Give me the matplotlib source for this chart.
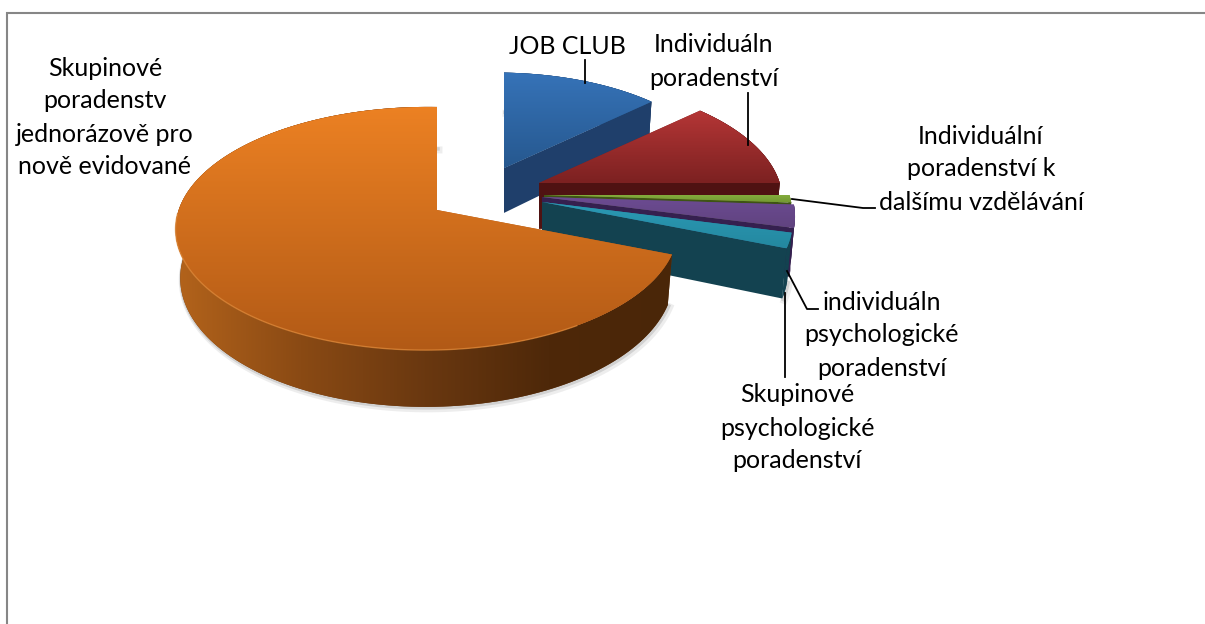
import numpy as np
import matplotlib
matplotlib.use('Agg')
import matplotlib.pyplot as plt
from matplotlib.colors import LinearSegmentedColormap
from matplotlib.patches import Polygon

# Data
kategorie = ['JOB CLUB',
             'Individuáln\nporadenství',
             'Individuální\nporadenství k\ndalšímu vzdělávání',
             'individuáln\npsychologické\nporadenství',
             'Skupinové\npsychologické\nporadenství',
             'Skupinové\nporadenstv\njednorázově pro\nnově evidované']
hodnoty = [13, 12, 1, 3, 2, 69]

# Styl a umisteni kazdeho dilu
stredy = [(504, 168), (539, 183), (544, 195), (542, 197), (542, 202), (437, 210)]
polomery = [0.915, 1.01, 1.03, 1.05, 1.04, 1.0]
barvy_top = [('#3673B8', '#26588F'), ('#B53636', '#7C2121'), ('#86AE3E', '#739A32'),
             ('#6C4B92', '#60437F'), ('#2B9AB5', '#2488A0'), ('#EC8123', '#B25A16')]
barvy_rez = ['#1F3F6B', '#4F1212', '#3E5414', '#35204F', '#134250', '#4E2809']
barvy_bok = [['#1F3F6B', '#1F3F6B'], ['#4F1212', '#4F1212'], ['#3E5414', '#3E5414'],
             ['#35204F', '#35204F'], ['#134250', '#134250'],
             ['#B3631B', '#8A4A14', '#6A3810', '#4E2809', '#4A2608']]
popisky_x = [567, 714, 981, 882, 797, 105]
popisky_y = [47, 45, 136, 302, 395, 68]
radek = 33
vodici = [[(585, 60), (585, 83)],
          [(748, 93), (748, 145)],
          [(792, 199), (863, 208), (875, 208)],
          [(787, 271), (807, 309), (818, 309)],
          [(785, 293), (785, 377)]]

fig = plt.figure(figsize=(12.05, 6.24), dpi=100)
ax = fig.add_axes([0, 0, 1, 1])
ax.set_xlim(0, 1205)
ax.set_ylim(624, 0)
ax.axis('off')


def projekce(stred, u, v):
    w = 1 + 0.152 * v + 0.04 * u
    return stred[0] + 248 * u / w, stred[1] - 118.7 * v / w


def dolni(stred, x, y):
    return stred[0] + 0.982 * (x - stred[0]), y + 47 + 0.065 * (y - 200)


def gradient(body, barvy, zorder, svisle=True):
    body = np.array(body)
    cm = LinearSegmentedColormap.from_list('g', barvy)
    grad = np.linspace(0, 1, 256)
    grad = grad.reshape(-1, 1) if svisle else grad.reshape(1, -1)
    x0, x1 = body[:, 0].min(), body[:, 0].max()
    y0, y1 = body[:, 1].min(), body[:, 1].max()
    okraj = Polygon(body, closed=True, fc=barvy[len(barvy) // 2], ec='none', zorder=zorder)
    ax.add_patch(okraj)
    im = ax.imshow(grad, cmap=cm, extent=(x0, x1, y1, y0), aspect='auto', zorder=zorder,
                   interpolation='bilinear')
    im.set_clip_path(okraj)


rohy = 90 - np.cumsum([0] + hodnoty) / sum(hodnoty) * 360

for i in range(len(hodnoty)):
    st = stredy[i]
    r = polomery[i]
    t = np.radians(np.linspace(rohy[i], rohy[i + 1], 160))
    ox, oy = projekce(st, r * np.cos(t), r * np.sin(t))
    lx, ly = dolni(st, ox, oy)
    z = 2 + i * 3

    # mekky stin pod dilem
    if i in (0, 4, 5):
        ax.plot(lx + 2, ly + 2, color='#555555', lw=5, alpha=0.10, zorder=z)
        ax.plot(lx + 1, ly + 1, color='#555555', lw=2.5, alpha=0.18, zorder=z)

    # bok podel oblouku
    bok = list(zip(ox, oy)) + list(zip(lx[::-1], ly[::-1]))
    gradient(bok, barvy_bok[i], z, svisle=False)

    # rez na konci dilu
    ax_x, ax_y = dolni(st, st[0], st[1])
    rez = [st, (ox[-1], oy[-1]), (lx[-1], ly[-1]), (ax_x, ax_y)]
    ax.add_patch(Polygon(rez, closed=True, fc=barvy_rez[i], ec='none', zorder=z + 1))

    # horni plocha
    top = [st] + list(zip(ox, oy))
    gradient(top, barvy_top[i], z + 2)

# svetla hrana na predni strane velkeho dilu
t = np.radians(np.linspace(182, 300, 100))
ox, oy = projekce(stredy[5], np.cos(t), np.sin(t))
ax.plot(ox, oy, color='#E08A3A', lw=1, alpha=0.7, zorder=30)

ax.set_xlim(0, 1205)
ax.set_ylim(624, 0)

for cara in vodici:
    ax.plot([p[0] for p in cara], [p[1] for p in cara], color='black', lw=1.3, zorder=40)

for nazev, x, y in zip(kategorie, popisky_x, popisky_y):
    for j, s in enumerate(nazev.split('\n')):
        ax.text(x, y + j * radek, s, ha='center', va='center', fontsize=18,
                family='Lato', color='black', zorder=50)

# ramecek grafu
ax.plot([6.5, 6.5, 1206], [626, 12.5, 12.5], color='#868686', lw=1.5, zorder=60,
        clip_on=False, solid_joinstyle='miter')

fig.savefig('out.png', dpi=100)
